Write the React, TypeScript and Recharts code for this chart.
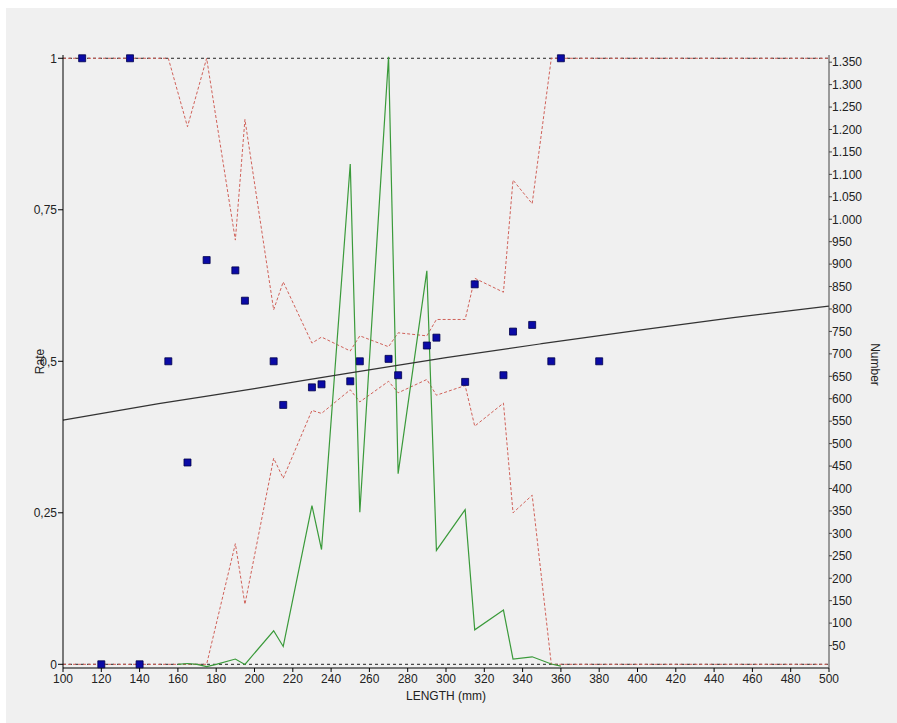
import { ComposedChart, Line, Scatter, XAxis, YAxis, ZAxis, ReferenceLine } from 'recharts'

// observed rate per length class (blue squares)
const rateLengths = [110, 120, 135, 140, 155, 165, 175, 190, 195, 210, 215, 230, 235, 250, 255, 270, 275, 290, 295, 310, 315, 330, 335, 345, 355, 360, 380]
const rateValues = [1, 0, 1, 0, 0.5, 0.333, 0.667, 0.65, 0.6, 0.5, 0.428, 0.457, 0.462, 0.467, 0.5, 0.504, 0.477, 0.526, 0.539, 0.466, 0.627, 0.477, 0.549, 0.56, 0.5, 1, 0.5]

// confidence band (red dashed)
const bandLengths = [100, 110, 120, 135, 140, 155, 165, 175, 190, 195, 210, 215, 230, 235, 250, 255, 270, 275, 290, 295, 310, 315, 330, 335, 345, 355, 360, 380, 500]
const bandUpper = [1, 1, 1, 1, 1, 1, 0.887, 1, 0.7, 0.899, 0.585, 0.631, 0.53, 0.54, 0.517, 0.542, 0.524, 0.547, 0.542, 0.569, 0.569, 0.637, 0.614, 0.799, 0.76, 1, 1, 1, 1]
const bandLower = [0, 0, 0, 0, 0, 0, 0, 0, 0.199, 0.099, 0.34, 0.307, 0.419, 0.414, 0.453, 0.433, 0.467, 0.448, 0.47, 0.444, 0.46, 0.393, 0.431, 0.25, 0.279, 0, 0, 0, 0]

// number of fish per length (green, right axis)
const numLengths = [160, 165, 170, 175, 180, 190, 195, 210, 215, 230, 235, 250, 255, 270, 275, 290, 295, 310, 315, 330, 335, 345, 355, 360]
const numValues = [8, 10, 8, 3, 8, 20, 8, 83, 48, 362, 264, 1123, 347, 1362, 433, 885, 262, 353, 85, 129, 20, 25, 9, 4]

// fitted curve (black)
const fitLengths = [100, 150, 200, 250, 300, 350, 400, 450, 500]
const fitValues = [0.403, 0.43, 0.455, 0.481, 0.506, 0.529, 0.551, 0.572, 0.591]

const xTicks = [100, 120, 140, 160, 180, 200, 220, 240, 260, 280, 300, 320, 340, 360, 380, 400, 420, 440, 460, 480, 500]
const rateTicks = [0, 0.25, 0.5, 0.75, 1]
const numTicks = [50, 100, 150, 200, 250, 300, 350, 400, 450, 500, 550, 600, 650, 700, 750, 800, 850, 900, 950, 1000, 1050, 1100, 1150, 1200, 1250, 1300, 1350]

const points = rateLengths.map((length, i) => ({ length, rate: rateValues[i] }))
const band = bandLengths.map((length, i) => ({ length, upper: bandUpper[i], lower: bandLower[i] }))
const counts = numLengths.map((length, i) => ({ length, number: numValues[i] }))
const fit = fitLengths.map((length, i) => ({ length, rate: fitValues[i] }))

const FONT = '"Liberation Sans", Arial, sans-serif'
const tickStyle = { fill: '#222', fontSize: 12, fontFamily: FONT }

const fmtRate = (v: number) => String(v).replace('.', ',')
const fmtNum = (v: number) => v >= 1000 ? `${Math.floor(v / 1000)}.${String(v % 1000).padStart(3, '0')}` : String(v)

function AxisTitle(props: any) {
  const { viewBox, title, rot, shiftX = 0, shiftY = 0 } = props
  if (!viewBox) return null
  const cx = viewBox.x + viewBox.width / 2 + shiftX
  const cy = viewBox.y + viewBox.height / 2 + shiftY
  return (
    <text x={cx} y={cy} transform={rot ? `rotate(${rot} ${cx} ${cy})` : undefined}
      textAnchor="middle" dominantBaseline="central" fill="#222" fontSize={12} fontFamily={FONT}>
      {title}
    </text>
  )
}

export default function App() {
  return (
    <div style={{ position: 'absolute', left: 0, top: 0, width: 897, height: 723, background: '#fff' }}>
      <div style={{ position: 'absolute', left: 6, top: 8, width: 891, height: 715, background: '#f0f0f0' }} />
      <div style={{ position: 'absolute', left: 0, top: 0 }}>
        <ComposedChart width={897} height={723} margin={{ top: 55, right: 18, bottom: 15, left: 18 }}>
          <XAxis
            type="number"
            dataKey="length"
            domain={[100, 500]}
            ticks={xTicks}
            interval={0}
            tick={tickStyle}
            tickSize={4}
            tickMargin={2}
            axisLine={{ stroke: '#000' }}
            tickLine={{ stroke: '#000' }}
            height={40}
            label={<AxisTitle title="LENGTH (mm)" shiftY={8} />}
          />
          <YAxis
            yAxisId="rate"
            type="number"
            domain={[-0.0061, 1.0054]}
            ticks={rateTicks}
            interval={0}
            tickFormatter={fmtRate}
            tick={tickStyle}
            tickSize={5}
            tickMargin={1}
            axisLine={{ stroke: '#000' }}
            tickLine={{ stroke: '#000' }}
            width={45}
            label={<AxisTitle title="Rate" rot={-90} shiftX={-1} />}
          />
          <YAxis
            yAxisId="num"
            orientation="right"
            type="number"
            domain={[0, 1366]}
            ticks={numTicks}
            interval={0}
            tickFormatter={fmtNum}
            tick={tickStyle}
            tickSize={3}
            tickMargin={0}
            axisLine={{ stroke: '#444' }}
            tickLine={{ stroke: '#444' }}
            width={50}
            label={<AxisTitle title="Number" rot={90} shiftX={21} shiftY={3} />}
          />
          <ZAxis range={[49, 49]} />
          <ReferenceLine yAxisId="rate" y={1} stroke="#222" strokeDasharray="3 3" />
          <ReferenceLine yAxisId="rate" y={0} stroke="#222" strokeDasharray="3 3" />
          <Line yAxisId="rate" data={band} dataKey="upper" type="linear" stroke="#d0625a" strokeWidth={1}
            strokeDasharray="3 2" dot={false} activeDot={false} isAnimationActive={false} />
          <Line yAxisId="rate" data={band} dataKey="lower" type="linear" stroke="#d0625a" strokeWidth={1}
            strokeDasharray="3 2" dot={false} activeDot={false} isAnimationActive={false} />
          <Line yAxisId="num" data={counts} dataKey="number" type="linear" stroke="#3a9a3a" strokeWidth={1.2}
            dot={false} activeDot={false} isAnimationActive={false} />
          <Line yAxisId="rate" data={fit} dataKey="rate" type="monotone" stroke="#333" strokeWidth={1.2}
            dot={false} activeDot={false} isAnimationActive={false} />
          <Scatter yAxisId="rate" data={points} dataKey="rate" shape="square" fill="#0a0aa6"
            stroke="#00004a" strokeWidth={0.8} isAnimationActive={false} />
        </ComposedChart>
      </div>
    </div>
  )
}
